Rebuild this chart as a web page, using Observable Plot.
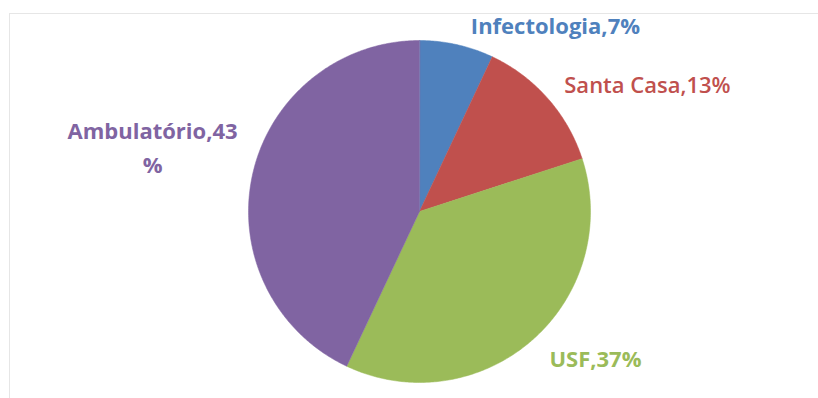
<!DOCTYPE html>
<html>
<head>
<meta charset="utf-8">
<script src="https://cdn.jsdelivr.net/npm/d3@7"></script>
<script src="https://cdn.jsdelivr.net/npm/@observablehq/plot@0.6"></script>
<style>
  html, body { margin: 0; padding: 0; background: #fff; overflow: hidden; }
  #wrap { position: relative; width: 818px; height: 398px; }
  #border { position: absolute; left: 9px; top: 13px; width: 900px; height: 500px; border: 1px solid #e6e6e6; }
  #chart { position: absolute; left: 0; top: 0; }
</style>
</head>
<body>
<div id="wrap"><div id="border"></div><div id="chart"></div></div>
<script>
// Share of cases by place of care (percent)
const categories = ["Infectologia", "Santa Casa", "USF", "Ambulatório"];
const shares = [7, 13, 37, 43];
const labels = ["Infectologia,7%", "Santa Casa,13%", "USF,37%", "Ambulatório,43\n%"];
const colors = ["#4F81BD", "#C0504D", "#9BBB59", "#8064A2"];
const weights = ["bold", "600", "bold", "bold"];

// Label anchors in unit-circle coordinates (radius = 1)
const labelX = [0.795, 1.333, 1.029, -1.561];
const labelY = [1.1, 0.754, -0.848, 0.39];

// Slice angles, clockwise from 12 o'clock
const arcs = d3.pie().sort(null)(shares);

// Each slice as a closed polygon: centre, then points along its arc
const slicePoints = [];
arcs.forEach((a, i) => {
  slicePoints.push({name: categories[i], x: 0, y: 0});
  const n = Math.max(4, Math.ceil((a.endAngle - a.startAngle) / 0.01));
  for (let k = 0; k <= n; k++) {
    const t = a.startAngle + (a.endAngle - a.startAngle) * k / n;
    slicePoints.push({name: categories[i], x: Math.sin(t), y: Math.cos(t)});
  }
});

const labelData = categories.map((c, i) => ({name: c, text: labels[i], x: labelX[i], y: labelY[i], w: weights[i]}));

const cx = 419, cy = 211, r = 171;

const textMark = (d) => Plot.text([d], {
  x: "x", y: "y", text: "text", fill: "name",
  fontFamily: "'Open Sans', sans-serif",
  fontSize: 22, fontWeight: d.w, lineHeight: 1.55
});

const chart = Plot.plot({
  width: 818,
  height: 398,
  margin: 0,
  style: {background: "transparent", overflow: "visible"},
  x: {domain: [-1, 1], range: [cx - r, cx + r], axis: null},
  y: {domain: [-1, 1], range: [cy + r, cy - r], axis: null},
  color: {domain: categories, range: colors},
  marks: [
    Plot.line(slicePoints, {x: "x", y: "y", z: "name", fill: "name", stroke: "name", strokeWidth: 0.5, curve: "linear-closed"}),
    ...labelData.map(textMark)
  ]
});

document.getElementById("chart").appendChild(chart);
</script>
</body>
</html>
